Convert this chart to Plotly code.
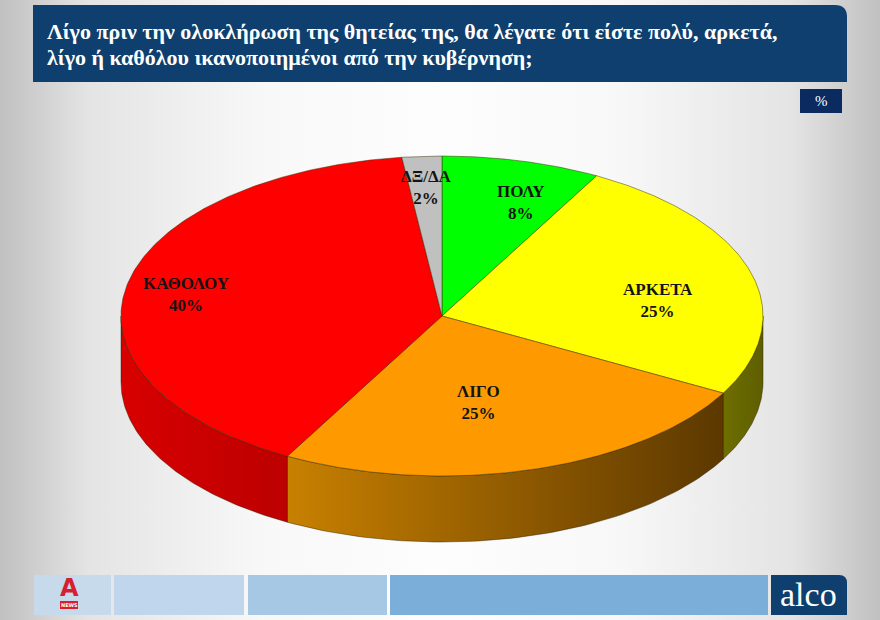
import numpy as np
import plotly.graph_objects as go

# ---------------- data ----------------
categories = ["ΠΟΛΥ", "ΑΡΚΕΤΑ", "ΛΙΓΟ", "ΚΑΘΟΛΟΥ", "ΔΞ/ΔΑ"]
values = [8, 25, 25, 40, 2]
title_lines = ["Λίγο πριν την ολοκλήρωση της θητείας της, θα λέγατε ότι είστε πολύ, αρκετά,",
               "λίγο ή καθόλου ικανοποιημένοι από την κυβέρνηση;"]

# ---------------- style ----------------
top_colors = ["#00FF00", "#FFFF00", "#FF9900", "#FF0000", "#C0C0C0"]
side_colors = [("#00A000", "#007000"), ("#6E6E00", "#5E5E00"), ("#C88000", "#5C3800"),
               ("#D80000", "#BC0000"), ("#909090", "#808080")]
label_pos = [(521, 202), (658, 300), (478, 402), (186, 294), (426, 187)]

W, H = 880, 620
CX, CY, RX, RY, DEPTH = 442, 316, 321, 160, 66
SERIF = "Liberation Serif, Times New Roman, serif"

fig = go.Figure()

# background gradient
fig.add_trace(go.Scatter(x=[0, W, W, 0, 0], y=[0, 0, H, H, 0], mode="lines", fill="toself",
                         line=dict(width=0), hoverinfo="skip",
                         fillgradient=dict(type="horizontal",
                                           colorscale=[[0, "#C0C0C0"], [0.1, "#E4E4E4"], [0.3, "#F8F8F8"],
                                                       [0.5, "#FDFDFD"], [0.7, "#F8F8F8"], [0.9, "#E4E4E4"],
                                                       [1, "#C0C0C0"]])))


def pt(t_deg, dy=0.0):
    t = np.radians(t_deg)
    return CX + RX * np.sin(t), CY - RY * np.cos(t) + dy


total = sum(values)
bounds = np.concatenate([[0], np.cumsum(values)]) / total * 360.0

# side faces (visible front half: 90..270 deg)
for i in range(len(values)):
    s, e = max(bounds[i], 90), min(bounds[i + 1], 270)
    if e <= s:
        continue
    ts = np.linspace(s, e, 80)
    xt, yt = pt(ts)
    xb, yb = pt(ts[::-1], DEPTH)
    xs = np.concatenate([xt, xb, xt[:1]])
    ys = np.concatenate([yt, yb, yt[:1]])
    c0, c1 = side_colors[i]
    fig.add_trace(go.Scatter(x=xs, y=ys, mode="lines", fill="toself", hoverinfo="skip",
                             line=dict(color="rgba(40,30,0,0.55)", width=0.8),
                             fillgradient=dict(type="horizontal", colorscale=[[0, c0], [1, c1]])))

# top faces
for i in range(len(values)):
    ts = np.linspace(bounds[i], bounds[i + 1], 200)
    xa, ya = pt(ts)
    xs = np.concatenate([[CX], xa, [CX]])
    ys = np.concatenate([[CY], ya, [CY]])
    fig.add_trace(go.Scatter(x=xs, y=ys, mode="lines", fill="toself", fillcolor=top_colors[i],
                             line=dict(color="rgba(50,40,0,0.6)", width=0.8), hoverinfo="skip",
                             name=categories[i]))

# labels
for i, (lx, ly) in enumerate(label_pos):
    fig.add_annotation(x=lx, y=ly, xref="x", yref="y", showarrow=False,
                       text=f"<b>{categories[i]}</b><br><b>{values[i]}%</b>",
                       font=dict(family=SERIF, size=17, color="#141414"), align="center")

shapes = []
# title box with rounded top-right corner
shapes.append(dict(type="path", xref="x", yref="y",
                   path="M 33 5 L 835 5 Q 847 5 847 17 L 847 82 L 33 82 Z",
                   fillcolor="#0E3F6E", line=dict(width=0), layer="above"))
# % box
shapes.append(dict(type="rect", xref="x", yref="y", x0=800, x1=842, y0=89, y1=113,
                   fillcolor="#0B2A60", line=dict(width=0), layer="above"))
# footer bands
for x0, x1, col in [(34, 111, "#C6DAEC"), (114, 244, "#BFD6EC"), (248, 387, "#A6C8E5"), (390, 768, "#7BAED8")]:
    shapes.append(dict(type="rect", xref="x", yref="y", x0=x0, x1=x1, y0=575, y1=615,
                       fillcolor=col, line=dict(width=0), layer="above"))
shapes.append(dict(type="path", xref="x", yref="y",
                   path="M 771 575 L 839 575 Q 847 575 847 583 L 847 615 L 771 615 Z",
                   fillcolor="#0E3F6E", line=dict(width=0), layer="above"))
# NEWS pill
shapes.append(dict(type="rect", xref="x", yref="y", x0=60, x1=78, y0=601, y1=609,
                   fillcolor="#D62030", line=dict(width=0), layer="above"))
fig.update_layout(shapes=shapes)

fig.add_annotation(x=45, y=31, xref="x", yref="y", xanchor="left", showarrow=False,
                   text=f"<b>{title_lines[0]}</b>", font=dict(family=SERIF, size=22, color="white"))
fig.add_annotation(x=45, y=57, xref="x", yref="y", xanchor="left", showarrow=False,
                   text=f"<b>{title_lines[1]}</b>", font=dict(family=SERIF, size=22, color="white"))
fig.add_annotation(x=821, y=101, xref="x", yref="y", showarrow=False, text="%",
                   font=dict(family=SERIF, size=15, color="white"))
fig.add_annotation(x=808, y=594, xref="x", yref="y", showarrow=False, text="alco",
                   font=dict(family=SERIF, size=34, color="white"))
fig.add_annotation(x=69, y=588, xref="x", yref="y", showarrow=False, text="<b>A</b>",
                   font=dict(family="DejaVu Sans, sans-serif", size=24, color="#D62030"))
fig.add_annotation(x=69, y=605, xref="x", yref="y", showarrow=False, text="<b>NEWS</b>",
                   font=dict(family="DejaVu Sans, sans-serif", size=5, color="white"))

fig.update_layout(width=W, height=H, margin=dict(l=0, r=0, t=0, b=0), showlegend=False,
                  paper_bgcolor="#F5F5F5", plot_bgcolor="#F5F5F5",
                  xaxis=dict(range=[0, W], visible=False, fixedrange=True),
                  yaxis=dict(range=[H, 0], visible=False, fixedrange=True))

fig.write_html("out.html")
